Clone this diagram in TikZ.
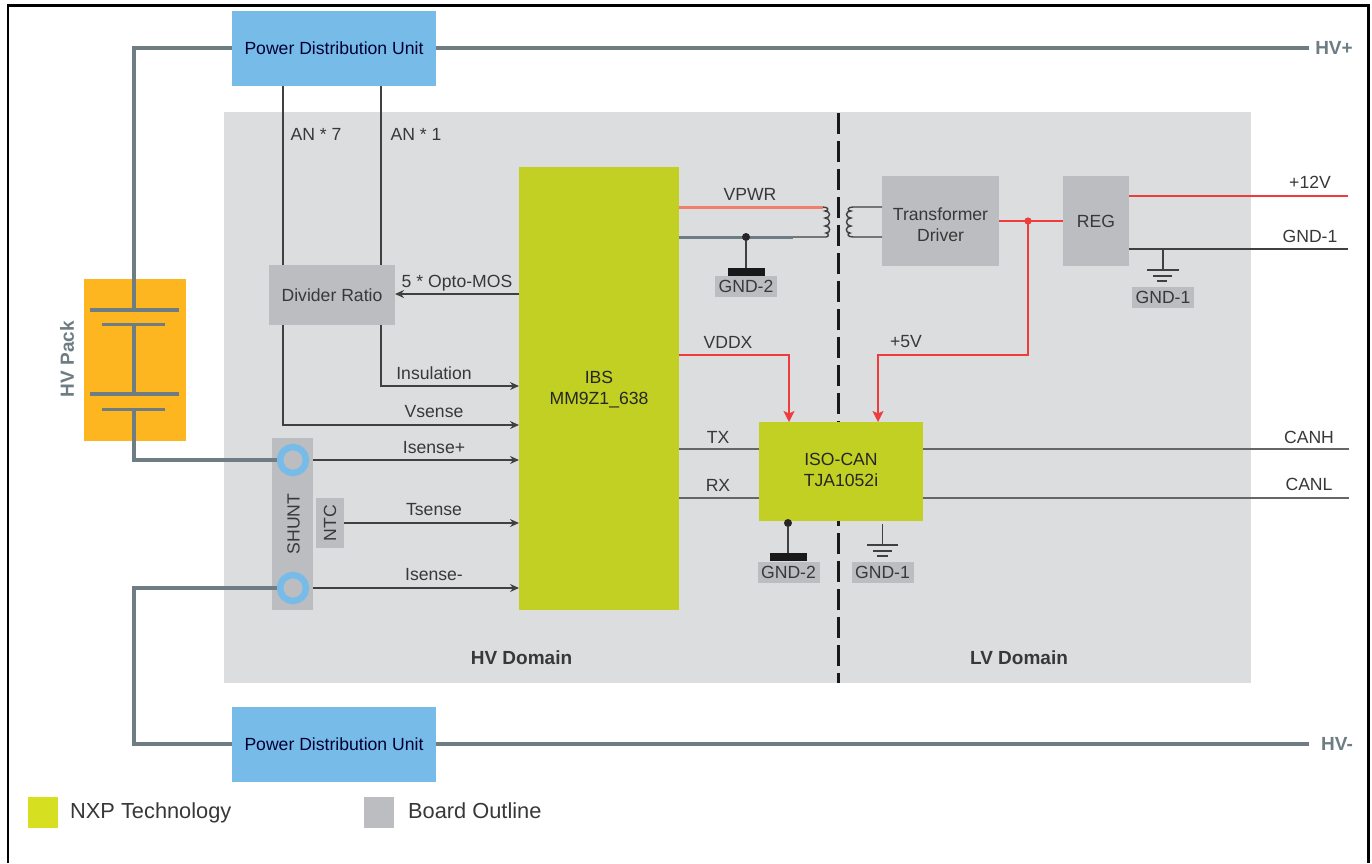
\documentclass[tikz,border=0pt]{standalone}
\usepackage{fontspec}
\setmainfont{Liberation Sans}
\usetikzlibrary{arrows.meta}
\definecolor{boardc}{HTML}{DCDDDF}
\definecolor{greyb}{HTML}{BCBDC0}
\definecolor{pdu}{HTML}{77BBE8}
\definecolor{nxp}{HTML}{C1D022}
\definecolor{nxpl}{HTML}{D6E021}
\definecolor{pack}{HTML}{FDB620}
\definecolor{hvline}{HTML}{6E7C83}
\definecolor{txt}{HTML}{383838}
\definecolor{wire}{HTML}{404040}
\definecolor{redw}{HTML}{EE3B3B}
\definecolor{orw}{HTML}{F0806A}
\newcommand{\twolines}[3]{\raisebox{#1}[0pt][0pt]{\begin{tabular}{@{}c@{}}#2\\#3\end{tabular}}}
\tikzset{
  x=1pt,y=-1pt,
  lab/.style={font=\fontsize{17.6}{20}\selectfont,text=txt,inner sep=0pt},
  boxn/.style={inner sep=0pt,outer sep=0pt,align=center,font=\fontsize{17.6}{21}\selectfont,text=txt},
  greybox/.style={boxn,fill=greyb},
  pdubox/.style={boxn,fill=pdu,minimum width=204pt,minimum height=75pt,text=black!80!blue},
  nxpbox/.style={boxn,fill=nxp,text=black!85},
  hv/.style={draw=hvline,line width=4pt},
  plate/.style={draw=hvline,line width=3.6pt},
  wireln/.style={draw=wire,line width=1.7pt},
  sig/.style={wireln,-{Stealth[length=9pt,width=8pt]}},
  redln/.style={draw=redw,line width=1.8pt},
  redarr/.style={redln,-{Stealth[length=11pt,width=11pt,inset=2.5pt]}},
  ring/.style={circle,draw=pdu,line width=6.5pt,minimum size=26pt,inner sep=0pt,fill=greyb},
  dotn/.style={circle,fill=black!85,minimum size=8pt,inner sep=0pt},
  gbar/.style={fill=black!90,inner sep=0pt,minimum width=37pt,minimum height=8pt},
  glab/.style={fill=greyb,inner sep=0pt,minimum width=62pt,minimum height=21pt,font=\fontsize{17.6}{20}\selectfont,text=txt},
  gplate/.style={draw=wire,line width=1.6pt},
  hvlab/.style={font=\bfseries\fontsize{19}{22}\selectfont,text=hvline,inner sep=0pt},
  domlab/.style={font=\bfseries\fontsize{19}{22}\selectfont,text=txt,inner sep=0pt},
  leg/.style={font=\fontsize{21.8}{25}\selectfont,text=txt,inner sep=0pt,anchor=west},
  coil/.style={draw=wire,line width=1.4pt}
}
\begin{document}
\begin{tikzpicture}
\useasboundingbox (0,0) rectangle (1372,863);
\fill[white] (0,0) rectangle (1372,863);
\draw[black,line width=2.6pt] (8,863) -- (8,5.5) -- (1368.5,5.5) -- (1368.5,863);
% board
\node[fill=boardc,inner sep=0pt,minimum width=1027pt,minimum height=571pt] (board) at (737.5,397.5) {};
% domain divider
\coordinate (dT) at (838.5,113);
\coordinate (dB) at (838.5,683);
\draw[black!90,line width=3.6pt,dash pattern=on 21pt off 7pt] (dT) -- (dB);
% pack
\node[fill=pack,inner sep=0pt,minimum width=102pt,minimum height=162pt] (pack) at (135,360) {};
% boxes
\node[pdubox] (pduT) at (334,48.5) {Power Distribution Unit};
\node[pdubox] (pduB) at (334,744.5) {Power Distribution Unit};
\node[greybox,minimum width=126pt,minimum height=60pt] (div) at (332,295) {Divider Ratio};
\node[greybox,minimum width=41pt,minimum height=172pt] (shunt) at (292.5,524) {};
\node[rotate=90,lab] (shuntt) at (293.5,524) {SHUNT};
\node[greybox,minimum width=28pt,minimum height=50pt] (ntc) at (330,523) {};
\node[rotate=90,lab] (ntct) at (330,523) {NTC};
\node[nxpbox,minimum width=160pt,minimum height=443pt] (ibs) at (599,388.5) {\twolines{-6pt}{IBS}{MM9Z1\_638}};
\node[nxpbox,minimum width=164pt,minimum height=99pt] (iso) at (841,471.5) {\twolines{-4.9pt}{ISO-CAN}{TJA1052i}};
\node[greybox,minimum width=117pt,minimum height=90pt] (td) at (940.5,221) {\twolines{-9.9pt}{Transformer}{Driver}};
\node[greybox,minimum width=66pt,minimum height=90pt] (reg) at (1096,221) {REG};
\node[ring] (r1) at (293,460) {};
\node[ring] (r2) at (293,588) {};
% HV lines
\coordinate (hvTl) at (134,48);
\coordinate (hvBl) at (134,744);
\coordinate (hvTr) at (1309,48);
\coordinate (hvBr) at (1309,744);
\coordinate (p1) at (134,310);
\coordinate (p2) at (134,324.5);
\coordinate (p3) at (134,394);
\coordinate (p4) at (134,409.5);
\draw[hv,line join=miter] (pduT.west |- hvTl) -- (hvTl) -- (p1);
\draw[hv] (p2) -- (p3);
\draw[hv] (p4) -- (134,460) -- (r1.west);
\draw[hv] (r2.west) -- (134,588) -- (hvBl) -- (pduB.west |- hvBl);
\draw[hv] (pduT.east |- hvTr) -- (hvTr);
\draw[hv] (pduB.east |- hvBr) -- (hvBr);
\draw[plate] (90,310) -- (179,310);
\draw[plate] (102,324.5) -- (165,324.5);
\draw[plate] (90,394) -- (179,394);
\draw[plate] (102,409.5) -- (165,409.5);
% signal wires
\coordinate (an7) at (283,265);
\coordinate (an1) at (381,265);
\draw[wireln] (an7 |- pduT.south) -- (an7);
\draw[wireln] (an1 |- pduT.south) -- (an1);
\coordinate (vsj) at (283,425);
\coordinate (inj) at (381,386);
\draw[sig] (vsj |- div.south) -- (vsj) -- (vsj -| ibs.west);
\draw[sig] (inj |- div.south) -- (inj) -- (inj -| ibs.west);
\coordinate (opt) at (519,294);
\draw[sig] (opt) -- (opt -| div.east);
\draw[sig] (r1.east -| shunt.east) -- (r1 -| ibs.west);
\draw[sig] (ntc.east) -- (ntc -| ibs.west);
\draw[sig] (r2.east -| shunt.east) -- (r2 -| ibs.west);
% transformer
\coordinate (cA) at (823,207);
\coordinate (cB) at (823,237);
\coordinate (cC) at (853,207);
\coordinate (cD) at (853,237);
\coordinate (gnj) at (746,237);
\draw[draw=orw,line width=3pt] (cA -| ibs.east) -- (cA);
\draw[draw=hvline,line width=3pt] (cB -| ibs.east) -- (793,237);
\draw[coil] (793,237) -- (826,237) .. controls (829,237) and (829,233) .. (826,233)
  .. controls (831,233) and (831,226) .. (825,226)
  .. controls (831,226) and (831,218) .. (825,218)
  .. controls (831,218) and (831,211) .. (825,211)
  .. controls (829,211) and (829,207) .. (823,207);
\draw[coil] (td.west |- cD) -- (853,237) .. controls (847,237) and (847,233) .. (850,233)
  .. controls (845,233) and (845,226) .. (851,226)
  .. controls (845,226) and (845,218) .. (851,218)
  .. controls (845,218) and (845,211) .. (851,211)
  .. controls (847,211) and (847,207) .. (853,207) -- (td.west |- cC);
% GND-2 top
\node[dotn] (d1) at (gnj) {};
\node[gbar] (b1) at (746,272) {};
\node[glab] (g1) at (746,286.5) {GND-2};
\draw[wireln] (d1) -- (b1);
% GND-2 bottom
\node[dotn] (d2) at (788,523) {};
\node[gbar] (b2) at (788,557) {};
\node[glab] (g2) at (788.5,572.5) {GND-2};
\draw[wireln] (d2) -- (b2);
% GND-1 right
\coordinate (gA) at (1163,249);
\coordinate (gB) at (1163,270);
\draw[wireln] (reg.east |- gA) -- (1348,249);
\draw[wireln] (gA) -- (gB);
\draw[gplate] (1147,270) -- (1179,270);
\draw[gplate] (1153,276) -- (1172,276);
\draw[gplate] (1157,281) -- (1167,281);
\node[glab] (g3) at (1163,297) {GND-1};
% GND-1 bottom
\coordinate (hA) at (882.5,524);
\coordinate (hB) at (882.5,545);
\draw[wireln] (hA) -- (hB);
\draw[gplate] (867,545) -- (898,545);
\draw[gplate] (873,551) -- (892,551);
\draw[gplate] (877,556) -- (888,556);
\node[glab] (g4) at (882.5,572) {GND-1};
% red
\coordinate (vd) at (789,355);
\coordinate (fv) at (878,355);
\coordinate (fw) at (1028,355);
\coordinate (j5) at (1028,221);
\draw[redarr] (vd -| ibs.east) -- (vd) -- (vd |- iso.north);
\draw[redln] (td.east |- j5) -- (reg.west |- j5);
\draw[redarr] (j5) -- (fw) -- (fv) -- (fv |- iso.north);
\fill[redw] (j5) circle (3.6pt);
\draw[redln] (reg.east |- 0,196) -- (1348,196);
% TX RX CAN
\draw[wireln,draw=wire!80] (ibs.east |- 0,449) -- (iso.west |- 0,449);
\draw[wireln,draw=wire!80] (ibs.east |- 0,498) -- (iso.west |- 0,498);
\draw[wireln,draw=wire!80] (iso.east |- 0,449) -- (1349,449);
\draw[wireln,draw=wire!80] (iso.east |- 0,498) -- (1349,498);
% labels
\node[lab] (l1) at (316,134) {AN * 7};
\node[lab] (l2) at (416,134) {AN * 1};
\node[lab] (l3) at (457,283) {5 * Opto-MOS};
\node[lab] (l4) at (434,373) {Insulation};
\node[lab] (l5) at (434,412) {Vsense};
\node[lab] (l6) at (434,448) {Isense+};
\node[lab] (l7) at (434,510) {Tsense};
\node[lab] (l8) at (434,575) {Isense-};
\node[lab] (l9) at (750,194) {VPWR};
\node[lab] (l10) at (728,342) {VDDX};
\node[lab] (l11) at (906,342) {+5V};
\node[lab] (l12) at (718,437) {TX};
\node[lab] (l13) at (718,485) {RX};
\node[lab] (l14) at (1309,437) {CANH};
\node[lab] (l15) at (1309,484) {CANL};
\node[lab] (l16) at (1310,182) {+12V};
\node[lab] (l17) at (1310,236) {GND-1};
\node[domlab] (l18) at (521.5,658) {HV Domain};
\node[domlab] (l19) at (1019,658) {LV Domain};
\node[hvlab] (l20) at (1334,48) {HV+};
\node[hvlab] (l21) at (1337,744) {HV-};
\node[hvlab,rotate=90] (l22) at (67,359) {HV Pack};
% legend
\node[fill=nxpl,inner sep=0pt,minimum width=30pt,minimum height=31pt] (k1) at (43,812.5) {};
\node[leg] (k1t) at (70,812.5) {NXP Technology};
\node[fill=greyb,inner sep=0pt,minimum width=30pt,minimum height=31pt] (k2) at (379,812.5) {};
\node[leg] (k2t) at (408,811) {Board Outline};
\end{tikzpicture}
\end{document}
